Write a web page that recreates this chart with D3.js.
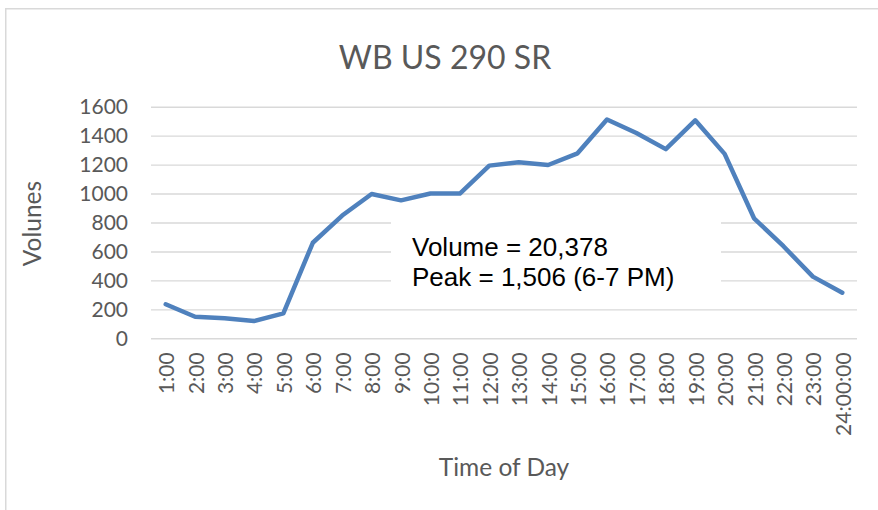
<!DOCTYPE html>
<html>
<head>
<meta charset="utf-8">
<script src="https://cdn.jsdelivr.net/npm/d3@7"></script>
<style>
  html, body { margin: 0; padding: 0; background: #fff; }
  svg { display: block; }
</style>
</head>
<body>
<svg id="chart" width="878" height="510"></svg>
<script>
// Hourly volumes, westbound US 290 service road
const hours = ["1:00","2:00","3:00","4:00","5:00","6:00","7:00","8:00","9:00","10:00","11:00","12:00",
               "13:00","14:00","15:00","16:00","17:00","18:00","19:00","20:00","21:00","22:00","23:00","24:00:00"];
const volumes = [235,149,138,119,172,660,848,997,953,1000,1000,1193,1216,1197,1278,1512,1418,1307,1506,1274,829,636,426,315];
const yTicks = [0,200,400,600,800,1000,1200,1400,1600];
const chartTitle = "WB US 290 SR";
const xTitle = "Time of Day";
const yTitle = "Volunes";
const noteLines = ["Volume = 20,378", "Peak = 1,506 (6-7 PM)"];

const svg = d3.select("#chart");
const font = "Lato, 'Open Sans', sans-serif";
const grey = "#595959";

const plot = { left: 151, right: 857, top: 106.7, bottom: 338.3 };

const x = d3.scaleBand().domain(hours).range([plot.left, plot.right]);
const y = d3.scaleLinear().domain([0, 1600]).range([plot.bottom, plot.top]);

// chart frame
svg.append("rect")
  .attr("x", 5.75).attr("y", 8.75).attr("width", 1000).attr("height", 800)
  .attr("fill", "#fff").attr("stroke", "#d9d9d9").attr("stroke-width", 1.5);

// title
svg.append("text")
  .attr("x", 445).attr("y", 69)
  .attr("text-anchor", "middle")
  .attr("font-family", font).attr("font-size", 32)
  .attr("fill", grey)
  .text(chartTitle);

// y axis: gridlines + labels
const yAxis = d3.axisLeft(y).tickValues(yTicks).tickFormat(d3.format("d"))
  .tickSize(-(plot.right - plot.left)).tickPadding(23);
const gy = svg.append("g").attr("transform", `translate(${plot.left},0)`).call(yAxis);
gy.select(".domain").remove();
gy.selectAll(".tick line").attr("stroke", "#d9d9d9").attr("stroke-width", 1.4);
gy.selectAll(".tick text")
  .attr("font-family", font).attr("font-size", 21).attr("fill", grey);

// y axis title
svg.append("text")
  .attr("transform", `translate(41,223.5) rotate(-90)`)
  .attr("text-anchor", "middle")
  .attr("font-family", font).attr("font-size", 24.5)
  .attr("fill", grey)
  .text(yTitle);

// x axis labels (rotated)
const xAxis = d3.axisBottom(x).tickSize(0).tickPadding(0);
const gx = svg.append("g").attr("transform", `translate(0,${plot.bottom})`).call(xAxis);
gx.select(".domain").remove();
gx.selectAll(".tick text")
  .attr("font-family", font).attr("font-size", 21).attr("fill", grey)
  .attr("text-anchor", "end")
  .attr("dy", null)
  .attr("transform", "translate(0,14) rotate(-90)")
  .attr("x", 0).attr("y", 0)
  .attr("dominant-baseline", "central");

// x axis title
svg.append("text")
  .attr("x", (plot.left + plot.right) / 2).attr("y", 476)
  .attr("text-anchor", "middle")
  .attr("font-family", font).attr("font-size", 24.5)
  .attr("fill", grey)
  .text(xTitle);

// annotation box
svg.append("rect")
  .attr("x", 391).attr("y", 210).attr("width", 330).attr("height", 86)
  .attr("fill", "#fff");
const note = svg.append("text")
  .attr("font-family", "'Liberation Sans', Arial, sans-serif")
  .attr("font-size", 26).attr("fill", "#000");
noteLines.forEach((t, i) => {
  note.append("tspan").attr("x", 412).attr("y", 256 + i * 29.5).text(t);
});

// volume line
const line = d3.line()
  .x((d, i) => x(hours[i]) + x.bandwidth() / 2)
  .y(d => y(d));
svg.append("path")
  .datum(volumes)
  .attr("d", line)
  .attr("fill", "none")
  .attr("stroke", "#4f81bd")
  .attr("stroke-width", 4.5)
  .attr("stroke-linejoin", "round")
  .attr("stroke-linecap", "round");
</script>
</body>
</html>
